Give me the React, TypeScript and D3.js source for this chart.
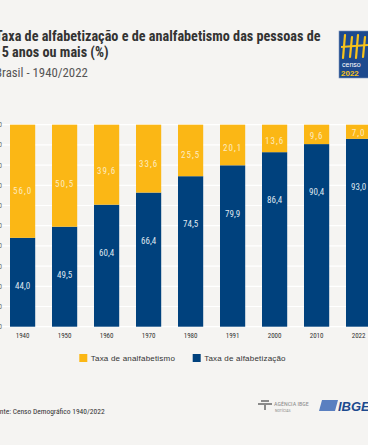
import React, { useEffect, useRef } from 'react';
import * as d3 from 'd3';

// Censo - alfabetização 15+ anos
const years = ['1940', '1950', '1960', '1970', '1980', '1991', '2000', '2010', '2022'];
const alfabetizacao = [44.0, 49.5, 60.4, 66.4, 74.5, 79.9, 86.4, 90.4, 93.0];
const analfabetismo = [56.0, 50.5, 39.6, 33.6, 25.5, 20.1, 13.6, 9.6, 7.0];
const yTicks = [0, 10, 20, 30, 40, 50, 60, 70, 80, 90, 100];
const legendLabels = ['Taxa de analfabetismo', 'Taxa de alfabetização'];

const YELLOW = '#fbb715';
const BLUE = '#00417d';
const NARROW = '"Liberation Sans Narrow", "Roboto Condensed", "DejaVu Sans Condensed", sans-serif';
const SANS = '"Liberation Sans", Arial, sans-serif';

const fmt = (v: number) => v.toFixed(1).replace('.', ',');

export default function App() {
    const ref = useRef<SVGSVGElement>(null);

    useEffect(() => {
        const W = 368, H = 445;
        const svg = d3.select(ref.current);
        svg.selectAll('*').remove();

        svg.append('rect').attr('width', W).attr('height', H).attr('fill', '#f5f4f2');

        const x = d3.scaleBand<string>()
            .domain(years)
            .range([1.6, 379.6])
            .paddingInner(0.4)
            .paddingOuter(0.2);
        const y = d3.scaleLinear().domain([0, 100]).range([326.7, 124.7]);

        // title
        const title = svg.append('g').attr('font-family', NARROW).attr('fill', '#333');
        title.append('text').attr('x', -5).attr('y', 40.5)
            .attr('font-size', 14.2).attr('font-weight', 'bold')
            .text('Taxa de alfabetização e de analfabetismo das pessoas de');
        title.append('text').attr('x', -5.5).attr('y', 57)
            .attr('font-size', 14.2).attr('font-weight', 'bold')
            .text('15 anos ou mais (%)');
        title.append('text').attr('x', -5).attr('y', 76.5)
            .attr('font-size', 12.8).attr('fill', '#555')
            .text('Brasil - 1940/2022');

        // censo logo
        const logo = svg.append('g');
        logo.append('rect').attr('x', 339).attr('y', 31).attr('width', 32).attr('height', 47)
            .attr('fill', '#1d4a8e').attr('stroke', '#7d94bd').attr('stroke-width', 0.6);
        [344, 351, 357, 364].forEach((lx, i) => {
            logo.append('path')
                .attr('d', `M${lx + 1},${35 + (i % 2) * 2} L${lx - 1},${58 - (i % 2)}`)
                .attr('stroke', '#f7c21a').attr('stroke-width', 2.2).attr('stroke-linecap', 'round');
        });
        logo.append('path').attr('d', 'M341,47 L368,45').attr('stroke', '#f7c21a').attr('stroke-width', 2);
        logo.append('text').attr('x', 342).attr('y', 67).attr('font-family', SANS)
            .attr('font-size', 7).attr('fill', '#fff').text('censo');
        logo.append('text').attr('x', 341).attr('y', 76).attr('font-family', SANS)
            .attr('font-size', 8).attr('font-weight', 'bold').attr('fill', '#f7c21a').text('2022');

        // grid
        const grid = svg.append('g');
        grid.selectAll('line').data(yTicks).enter().append('line')
            .attr('x1', 0).attr('x2', W)
            .attr('y1', d => y(d)).attr('y2', d => y(d))
            .attr('stroke', '#ffffff').attr('stroke-width', 1.2);
        grid.selectAll('text').data(yTicks).enter().append('text')
            .attr('x', 2).attr('y', d => y(d) + 2.5)
            .attr('text-anchor', 'end').attr('font-family', NARROW)
            .attr('font-size', 7).attr('fill', '#666').text(d => String(d));

        // bars
        const bars = svg.append('g');
        bars.selectAll('.blue').data(years).enter().append('rect')
            .attr('x', d => x(d)!).attr('width', x.bandwidth())
            .attr('y', (d, i) => y(alfabetizacao[i]))
            .attr('height', (d, i) => y(0) - y(alfabetizacao[i]))
            .attr('fill', BLUE);
        bars.selectAll('.yellow').data(years).enter().append('rect')
            .attr('x', d => x(d)!).attr('width', x.bandwidth())
            .attr('y', (d, i) => y(alfabetizacao[i] + analfabetismo[i]))
            .attr('height', (d, i) => y(alfabetizacao[i]) - y(alfabetizacao[i] + analfabetismo[i]))
            .attr('fill', YELLOW);

        // value labels
        const labels = svg.append('g').attr('font-family', NARROW).attr('font-size', 9).attr('text-anchor', 'middle');
        labels.selectAll('.lb').data(years).enter().append('text')
            .attr('x', d => x(d)! + x.bandwidth() / 2)
            .attr('y', (d, i) => y(alfabetizacao[i]) + 48 + 3.2)
            .attr('fill', '#dfe6ef')
            .text((d, i) => fmt(alfabetizacao[i]));
        labels.selectAll('.ly').data(years).enter().append('text')
            .attr('x', d => x(d)! + x.bandwidth() / 2)
            .attr('y', (d, i) => {
                const top = y(alfabetizacao[i] + analfabetismo[i]);
                const bottom = y(alfabetizacao[i]);
                return top + (bottom - top) * 0.58 + 3.2;
            })
            .attr('fill', '#fdebc0').attr('letter-spacing', 1)
            .text((d, i) => fmt(analfabetismo[i]));

        // x labels
        svg.append('g').selectAll('text').data(years).enter().append('text')
            .attr('x', d => x(d)! + x.bandwidth() / 2).attr('y', 338)
            .attr('text-anchor', 'middle').attr('font-family', NARROW)
            .attr('font-size', 7).attr('fill', '#333').text(d => d);

        // legend
        const legend = svg.append('g').attr('font-family', SANS).attr('font-size', 8).attr('fill', '#333');
        const legendX = [79.3, 192.7];
        const legendColors = [YELLOW, BLUE];
        legendLabels.forEach((l, i) => {
            legend.append('rect').attr('x', legendX[i]).attr('y', 354).attr('width', 8).attr('height', 8)
                .attr('fill', legendColors[i]);
            legend.append('text').attr('x', legendX[i] + 11.5).attr('y', 361.3)
                .attr('letter-spacing', 0.2).text(l);
        });

        // source
        svg.append('text').attr('x', -7.5).attr('y', 414)
            .attr('font-family', NARROW).attr('font-size', 7.5).attr('fill', '#333')
            .text('Fonte: Censo Demográfico 1940/2022');

        // bottom logos
        const ag = svg.append('g').attr('fill', '#8a8a8a');
        ag.append('path').attr('d', 'M258,403 L272,403 L272,405 L266,405 L266,410 L264,410 L264,405 L258,405 Z');
        ag.append('rect').attr('x', 261).attr('y', 400).attr('width', 8).attr('height', 2);
        ag.append('text').attr('x', 274).attr('y', 406).attr('font-family', NARROW)
            .attr('font-size', 6).text('AGÊNCIA IBGE');
        ag.append('text').attr('x', 275).attr('y', 411.5).attr('font-family', NARROW)
            .attr('font-size', 4).text('NOTÍCIAS');
        svg.append('path').attr('d', 'M322,400 L338,400 L335,411 L319,411 Z').attr('fill', '#5a7fc0');
        svg.append('text').attr('x', 338).attr('y', 411).attr('font-family', SANS)
            .attr('font-size', 13).attr('font-weight', 'bold').attr('font-style', 'italic')
            .attr('fill', '#1d4a8e').text('IBGE');
    }, []);

    return <svg ref={ref} width={368} height={445} style={{ position: 'absolute', left: 0, top: 0, display: 'block' }} />;
}
